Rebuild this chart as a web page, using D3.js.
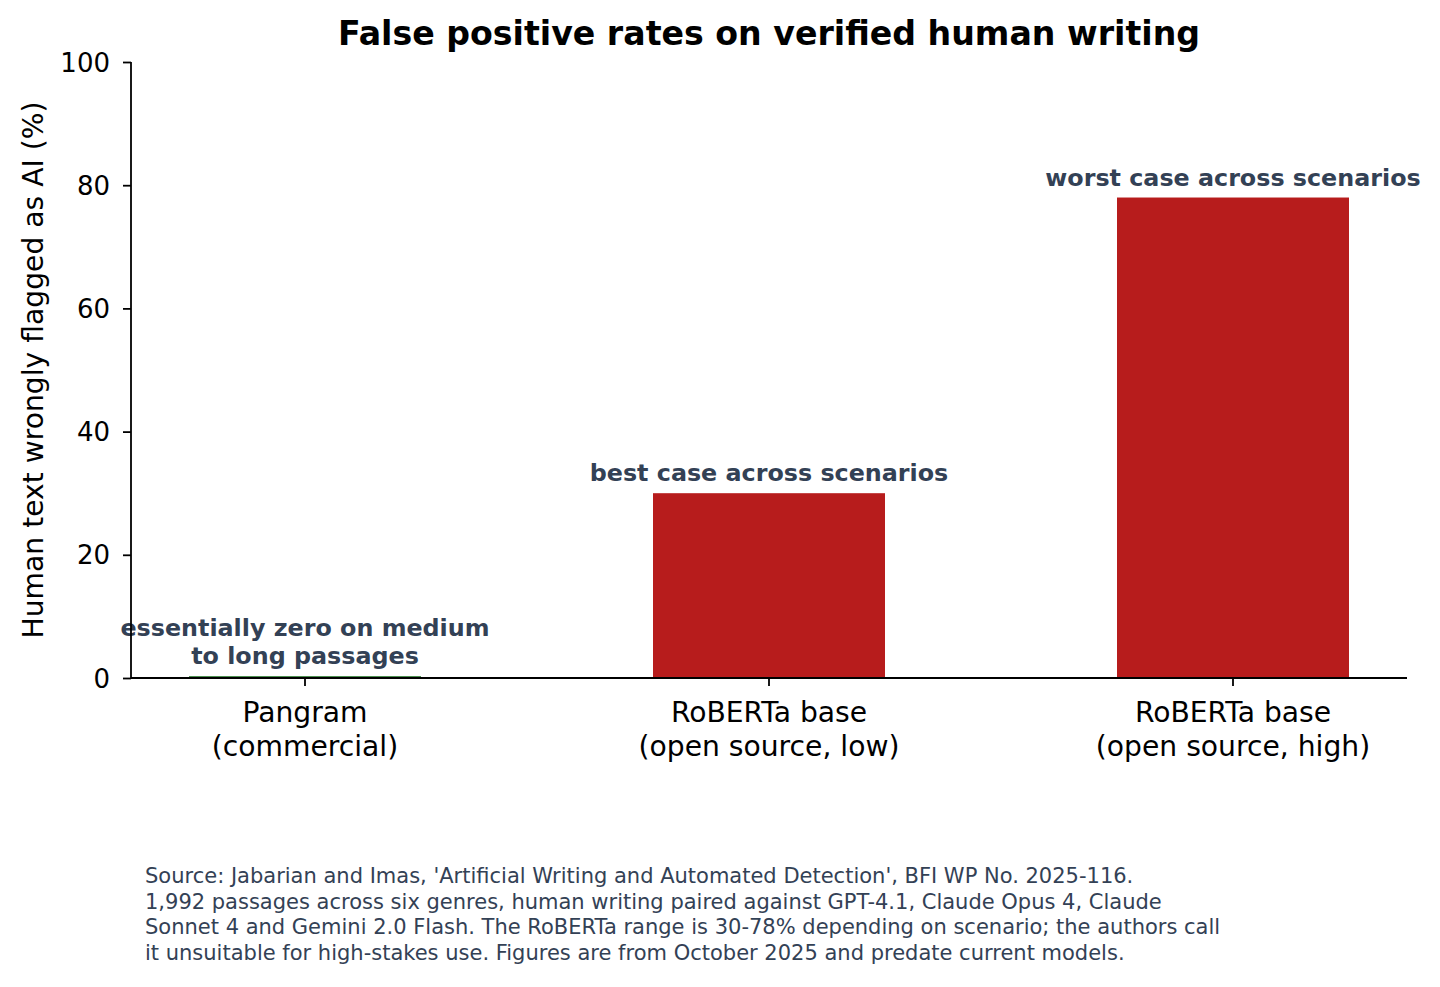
<!DOCTYPE html>
<html>
<head>
<meta charset="utf-8">
<script src="https://cdn.jsdelivr.net/npm/d3@7"></script>
<style>
  body { margin: 0; background: #fff; }
  svg text { font-family: "DejaVu Sans", sans-serif; }
</style>
</head>
<body>
<div id="chart"></div>
<script>
// data
const categories = ["Pangram\n(commercial)", "RoBERTa base\n(open source, low)", "RoBERTa base\n(open source, high)"];
const rates = [0.3, 30, 78];
const barColors = ["#2e7d32", "#b71c1c", "#b71c1c"];
const notes = ["essentially zero on medium\nto long passages", "best case across scenarios", "worst case across scenarios"];
const yTicks = [0, 20, 40, 60, 80, 100];
const footnote = [
  "Source: Jabarian and Imas, 'Artificial Writing and Automated Detection', BFI WP No. 2025-116.",
  "1,992 passages across six genres, human writing paired against GPT-4.1, Claude Opus 4, Claude",
  "Sonnet 4 and Gemini 2.0 Flash. The RoBERTa range is 30-78% depending on scenario; the authors call",
  "it unsuitable for high-stakes use. Figures are from October 2025 and predate current models."
];

const width = 1440, height = 987;
const margin = {left: 131, right: 33, top: 62, bottom: 309};

const svg = d3.select("#chart").append("svg")
  .attr("width", width)
  .attr("height", height);

const x = d3.scaleBand()
  .domain(categories)
  .range([margin.left, width - margin.right])
  .paddingInner(0.5)
  .paddingOuter(0.125);

const y = d3.scaleLinear()
  .domain([0, 100])
  .range([height - margin.bottom, margin.top]);

// bars
svg.selectAll("rect.bar")
  .data(rates)
  .join("rect")
  .attr("class", "bar")
  .attr("x", (d, i) => x(categories[i]))
  .attr("width", x.bandwidth())
  .attr("y", d => y(d))
  .attr("height", d => y(0) - y(d))
  .attr("fill", (d, i) => barColors[i]);

// annotations above bars
notes.forEach((n, i) => {
  const lines = n.split("\n");
  const t = svg.append("text")
    .attr("text-anchor", "middle")
    .attr("font-size", 23.8)
    .attr("font-weight", "bold")
    .attr("fill", "#334155");
  const base = y(rates[i]) - 12 - (lines.length - 1) * 28;
  lines.forEach((l, k) => {
    t.append("tspan")
      .attr("x", x(categories[i]) + x.bandwidth() / 2)
      .attr("y", base + k * 28)
      .text(l);
  });
});

// y axis
const yAxis = svg.append("g")
  .attr("transform", `translate(${margin.left},0)`)
  .call(d3.axisLeft(y).tickValues(yTicks).tickSize(8).tickPadding(13));
yAxis.selectAll("text").attr("font-size", 26).attr("fill", "#000").attr("dy", "0.35em");
yAxis.selectAll("line, path").attr("stroke", "#000").attr("stroke-width", 1.8);
yAxis.select(".domain").attr("d", `M0,${y(100)}V${y(0)}`);

// x axis
const xAxis = svg.append("g")
  .attr("transform", `translate(0,${y(0)})`)
  .call(d3.axisBottom(x).tickSize(8).tickPadding(10));
xAxis.selectAll("line, path").attr("stroke", "#000").attr("stroke-width", 1.8);
xAxis.select(".domain").attr("d", `M${margin.left},0H${width - margin.right}`);
xAxis.selectAll(".tick text").each(function(d) {
  const t = d3.select(this).text(null).attr("font-size", 28.2).attr("fill", "#000");
  d.split("\n").forEach((l, k) => {
    t.append("tspan").attr("x", 0).attr("y", 24 + k * 34).attr("dy", "0.71em").text(l);
  });
});

// y label
svg.append("text")
  .attr("transform", `translate(43,${(y(0) + y(100)) / 2}) rotate(-90)`)
  .attr("text-anchor", "middle")
  .attr("font-size", 28.2)
  .attr("fill", "#000")
  .text("Human text wrongly flagged as AI (%)");

// title
svg.append("text")
  .attr("x", (margin.left + width - margin.right) / 2)
  .attr("y", 45)
  .attr("text-anchor", "middle")
  .attr("font-size", 33.2)
  .attr("font-weight", "bold")
  .text("False positive rates on verified human writing");

// footnote
const foot = svg.append("text")
  .attr("font-size", 21)
  .attr("fill", "#334155");
footnote.forEach((l, k) => {
  foot.append("tspan").attr("x", 145).attr("y", 883 + k * 25.7).text(l);
});
</script>
</body>
</html>
